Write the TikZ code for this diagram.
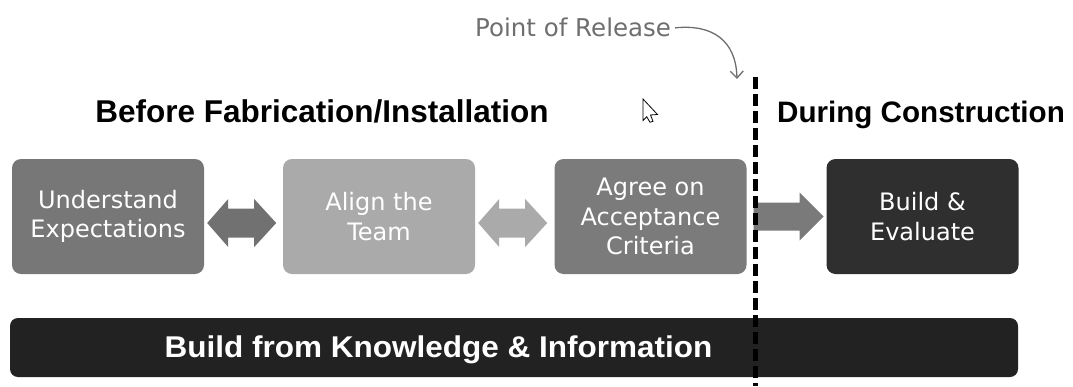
\documentclass[tikz,border=0pt]{standalone}
\usepackage{fontspec}
\setmainfont{Liberation Sans}
\newfontfamily\boxfont{DejaVu Sans}
\usetikzlibrary{calc,arrows.meta}

\definecolor{boxA}{HTML}{777777}
\definecolor{boxB}{HTML}{AAAAAA}
\definecolor{boxC}{HTML}{7B7B7B}
\definecolor{boxD}{HTML}{2F2F2F}
\definecolor{barfill}{HTML}{222222}
\definecolor{arrA}{HTML}{717171}
\definecolor{arrB}{HTML}{AAAAAA}
\definecolor{arrC}{HTML}{7A7A7A}
\definecolor{noteink}{HTML}{6E6E6E}

\tikzset{
  stagebox/.style={rectangle, rounded corners=9pt, minimum width=192pt,
    minimum height=115pt, inner sep=0pt, align=center, text=white,
    font=\boxfont\fontsize{24}{29.5}\selectfont},
  heading/.style={anchor=base, inner sep=0pt, font=\bfseries},
  divider/.style={line width=4.5pt, dash pattern=on 12pt off 5pt},
}

\begin{document}
\begin{tikzpicture}[x=1pt, y=-1pt]
\useasboundingbox (0,0) rectangle (1073,386);

% headings of the two phases
\node[heading, font=\bfseries\fontsize{31.5}{36}\selectfont] (before)
  at (322,122) {Before Fabrication/Installation};
\node[heading, font=\bfseries\fontsize{29.6}{34}\selectfont] (during)
  at (921,122) {During Construction};

% stage boxes
\node[stagebox, fill=boxA] (u) at (108,216.5) {Understand\\Expectations};
\node[stagebox, fill=boxB] (a) at (379,216.5) {Align the\\Team};
\node[stagebox, fill=boxC] (c) at (650.5,216.5) {Agree on\\Acceptance\\Criteria};
\node[stagebox, fill=boxD] (b) at (922.5,216.5) {Build \&\\Evaluate};

% two-way arrows between the early stages
\fill[arrA] ($(u.east)+(3,6.5)$) -- ++(21,-24) -- ++(0,9.5) -- ++(26,0)
  -- ++(0,-9.5) -- ++(22,24) -- ++(-22,24) -- ++(0,-9.5) -- ++(-26,0)
  -- ++(0,9.5) -- cycle;
\fill[arrB] ($(a.east)+(3,6.5)$) -- ++(21,-24) -- ++(0,9.5) -- ++(26,0)
  -- ++(0,-9.5) -- ++(22,24) -- ++(-22,24) -- ++(0,-9.5) -- ++(-26,0)
  -- ++(0,9.5) -- cycle;

% one-way arrow into construction
\fill[arrC] ($(c.east)+(7,-14)$) -- ++(46,0) -- ++(0,-10) -- ++(24,24)
  -- ++(-24,24) -- ++(0,-10) -- ++(-46,0) -- cycle;

% foundation bar
\node[rectangle, rounded corners=8pt, fill=barfill, minimum width=1008pt,
  minimum height=59pt, inner sep=0pt] (bar) at (514,347.5) {};
\node[anchor=base, inner sep=0pt, text=white,
  font=\bfseries\fontsize{30}{36}\selectfont] (barlabel) at (438.5,357)
  {\scalebox{1.05}[1]{Build from Knowledge \& Information}};

% release line
\coordinate (rtop) at (755.5,77);
\coordinate (rbot) at (755.5,386);
\draw[divider] (rtop) -- (rbot);

% release note with its curved pointer
\node[anchor=base west, inner sep=0pt, text=noteink,
  font=\boxfont\fontsize{24.5}{28}\selectfont] (por) at (475,36) {Point of Release};
\coordinate (reltip) at (737,79);
\draw[noteink, line width=1.3pt, -{Straight Barb[length=7pt,width=13pt]}]
  ($(por.east)+(4,1)$) .. controls (712,24) and (736,40) .. (reltip);

% mouse pointer
\draw[fill=white, line width=0.8pt, line join=miter]
  (643,99) -- (643,120.5) -- (646.7,116.7) -- (650,122.3) -- (653,121.3)
  -- (650.5,115) -- (657.5,114.5) -- cycle;
\end{tikzpicture}
\end{document}
